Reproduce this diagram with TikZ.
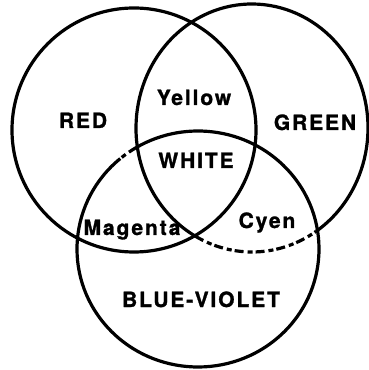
\documentclass[tikz,border=0pt]{standalone}
\usepackage{fontspec}
\setmainfont{TeX Gyre Heros}
\usetikzlibrary{positioning}

\begin{document}
\begin{tikzpicture}[
  x=1pt, y=1pt,
  ring/.style={draw=black, line width=3.2pt},
  broken/.style={ring, dash pattern=on 9pt off 4pt on 5pt off 3pt},
  lbl/.style={anchor=base, inner sep=0pt,
              font=\bfseries\fontsize{21}{21}\selectfont\addfontfeature{LetterSpace=9,FakeBold=1.2}},
]
\useasboundingbox (0,0) rectangle (369,370);

% ---- centres of the three lights ----
\coordinate (red)   at (134,240);
\coordinate (green) at (252,242);
\coordinate (blue)  at (198,121);

% ---- circles ----
\draw[ring] (red) circle[radius=122pt];
\draw[ring] (green) ++(303.5:116 and 124)
      arc[start angle=303.5, end angle=600.8, x radius=116pt, y radius=124pt];
\draw[broken] (green) ++(240.8:116 and 124)
      arc[start angle=240.8, end angle=303.5, x radius=116pt, y radius=124pt];
\draw[ring] (blue) ++(130:121 and 118)
      arc[start angle=130, end angle=480.5, x radius=121pt, y radius=118pt];
\draw[broken] (blue) ++(120.5:121 and 118)
      arc[start angle=120.5, end angle=130, x radius=121pt, y radius=118pt];

% ---- colour names ----
\node[lbl] (redlbl)   at (83,242)  {RED};
\node[lbl] (greenlbl) at (315,240) {GREEN};
\node[lbl] (bluelbl)  at (201,63)  {BLUE-VIOLET};
\node[lbl] (yellow)   at (194,265) {Yellow};
\node[lbl] (white)    at (196,202) {WHITE};
\node[lbl] (magenta)  at (132,135) {Magenta};
\node[lbl] (cyan)     at (267,142) {Cyen};

\end{tikzpicture}
\end{document}
